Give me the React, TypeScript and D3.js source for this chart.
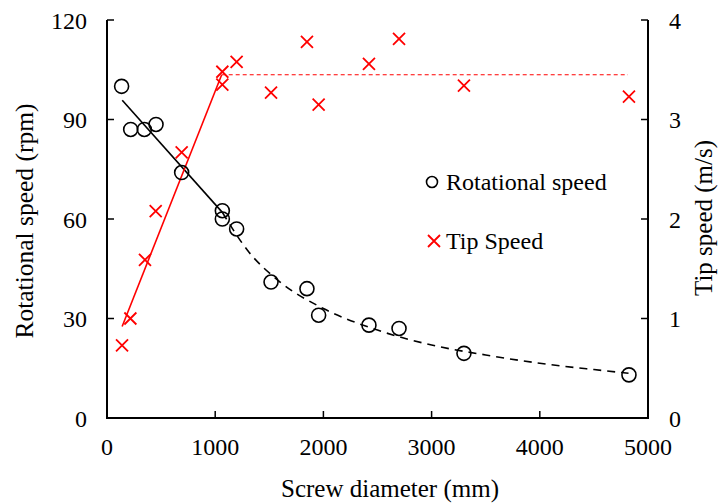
import React from "react";
import * as d3 from "d3";

const rotD = [135, 219, 345, 453, 690, 1066, 1066, 1198, 1516, 1848, 1956, 2421, 2699, 3299, 4824];
const rotV = [100, 87, 87, 88.5, 74, 62.5, 60, 57, 41, 39, 31, 28, 27, 19.5, 13];
const tipD = [139, 216, 351, 450, 690, 1066, 1066, 1198, 1516, 1848, 1956, 2421, 2699, 3299, 4824];
const tipV = [0.73, 1.0, 1.59, 2.08, 2.67, 3.48, 3.35, 3.58, 3.27, 3.78, 3.15, 3.56, 3.81, 3.34, 3.23];

const rotFitSolidD = [141, 1066];
const rotFitSolidV = [95.8, 62];
const rotFitDashD = [1066, 1300, 1600, 2000, 2500, 3000, 3500, 4000, 4500, 4820];
const rotFitDashV = [62, 50.5, 41, 33, 26.5, 22, 19, 16.5, 14.6, 13.5];
const tipFitSolidD = [140, 1060];
const tipFitSolidV = [0.92, 3.45];
const tipFitDashD = [1060, 4815];
const tipFitDashV = [3.45, 3.45];

const xTicks = [0, 1000, 2000, 3000, 4000, 5000];
const yLeftTicks = [0, 30, 60, 90, 120];
const yRightTicks = [0, 1, 2, 3, 4];

const W = 721, H = 504;
const L = 107, R = 648, T = 20, B = 418;
const FONT = "'Liberation Serif', 'Times New Roman', serif";

export default function App() {
  const x = d3.scaleLinear().domain([0, 5000]).range([L, R]);
  const yL = d3.scaleLinear().domain([0, 120]).range([B, T]);
  const yR = d3.scaleLinear().domain([0, 4]).range([B, T]);
  const lineL = d3.line<[number, number]>().x(d => x(d[0])).y(d => yL(d[1]));
  const lineR = d3.line<[number, number]>().x(d => x(d[0])).y(d => yR(d[1]));
  const zip = (a: number[], b: number[]) => a.map((v, i) => [v, b[i]] as [number, number]);
  const curveL = d3.line<[number, number]>().x(d => x(d[0])).y(d => yL(d[1])).curve(d3.curveMonotoneX);

  const cross = (cx: number, cy: number, s: number, key: any) => (
    <path key={key} d={`M${cx - s},${cy - s}L${cx + s},${cy + s}M${cx - s},${cy + s}L${cx + s},${cy - s}`} stroke="#ff0000" strokeWidth={1.8} fill="none" />
  );

  return (
    <svg width={W} height={H} style={{ position: "absolute", left: 0, top: 0, background: "#fff" }} fontFamily={FONT}>
      <rect width={W} height={H} fill="#fff" />
      {/* fit lines */}
      <path d={lineL(zip(rotFitSolidD, rotFitSolidV)) || ""} stroke="#000" strokeWidth={1.6} fill="none" />
      <path d={curveL(zip(rotFitDashD, rotFitDashV)) || ""} stroke="#000" strokeWidth={1.6} fill="none" strokeDasharray="8,6" />
      <path d={lineR(zip(tipFitSolidD, tipFitSolidV)) || ""} stroke="#ff0000" strokeWidth={1.6} fill="none" />
      <path d={lineR(zip(tipFitDashD, tipFitDashV)) || ""} stroke="#ff0000" strokeWidth={1.2} fill="none" strokeDasharray="4,3" />

      {/* markers */}
      {rotD.map((d, i) => (
        <circle key={"c" + i} cx={x(d)} cy={yL(rotV[i])} r={7} fill="none" stroke="#000" strokeWidth={1.6} />
      ))}
      {tipD.map((d, i) => cross(x(d), yR(tipV[i]), 6, "t" + i))}

      {/* axes */}
      <path d={`M${L},${T}V${B}H${R}V${T}`} stroke="#000" strokeWidth={2} fill="none" />
      {xTicks.map(t => (
        <g key={"xt" + t}>
          <line x1={x(t)} x2={x(t)} y1={B} y2={B - 7} stroke="#000" strokeWidth={1.5} />
          <text x={x(t)} y={455} textAnchor="middle" fontSize={24}>{t}</text>
        </g>
      ))}
      {yLeftTicks.map(t => (
        <g key={"yl" + t}>
          <line x1={L} x2={L + 7} y1={yL(t)} y2={yL(t)} stroke="#000" strokeWidth={1.5} />
          <text x={87} y={yL(t) + 8.5} textAnchor="end" fontSize={24}>{t}</text>
        </g>
      ))}
      {yRightTicks.map(t => (
        <g key={"yr" + t}>
          <line x1={R} x2={R - 7} y1={yR(t)} y2={yR(t)} stroke="#000" strokeWidth={1.5} />
          <text x={669} y={yR(t) + 8.5} textAnchor="start" fontSize={24}>{t}</text>
        </g>
      ))}

      {/* titles */}
      <text x={390} y={497} textAnchor="middle" fontSize={25}>Screw diameter (mm)</text>
      <text transform={`translate(33,221) rotate(-90)`} textAnchor="middle" fontSize={25.5}>Rotational speed (rpm)</text>
      <text transform={`translate(712,218) rotate(-90)`} textAnchor="middle" fontSize={25}>Tip speed (m/s)</text>

      {/* legend */}
      <circle cx={432} cy={182} r={5.5} fill="none" stroke="#000" strokeWidth={1.6} />
      <text x={446} y={190} fontSize={24}>Rotational speed</text>
      {cross(434, 241, 6, "lg")}
      <text x={446} y={249} fontSize={24}>Tip Speed</text>
    </svg>
  );
}
